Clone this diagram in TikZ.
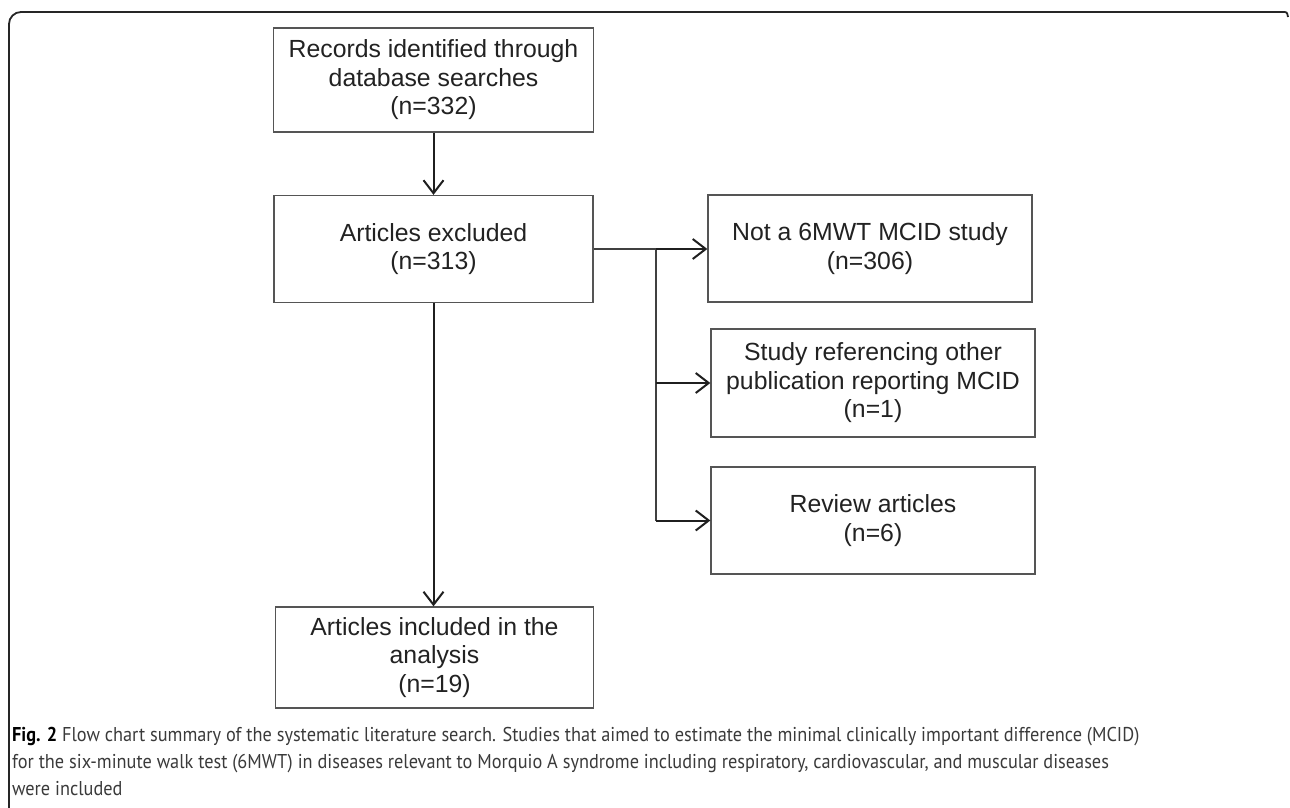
\documentclass[tikz,border=0pt]{standalone}
\usepackage{fontspec}
\setmainfont{Liberation Sans}
\newfontfamily\capfont{PT Sans}
\usetikzlibrary{arrows.meta}
\definecolor{boxline}{HTML}{555555}
\definecolor{txt}{HTML}{222222}
\definecolor{captxt}{HTML}{3A3A3A}
\tikzset{
  flowbox/.style={draw=boxline, line width=1.3pt, fill=white, align=center,
    text=txt, inner sep=0pt, font=\fontsize{24.8}{28.5}\selectfont},
  thinline/.style={draw=black!75, line width=1.2pt},
  arrowline/.style={draw=black!88, line width=2pt,
    -{Straight Barb[length=13pt,width=20pt,line width=2pt]}},
  captext/.style={anchor=base west, inner sep=0pt, text=captxt,
    font=\capfont\fontsize{20}{24}\selectfont}
}
\newcommand{\capline}[1]{\scalebox{0.915}[1]{#1}}
\begin{document}
\begin{tikzpicture}[x=1pt,y=-1pt]
\useasboundingbox (0,0) rectangle (1290,808);
% frame
\draw[line width=1.8pt, black!85, rounded corners=12pt] (9,808) -- (9,12) -- (1283,12);
\draw[line width=1.8pt, black!85] (1282.5,12) .. controls (1287,12) .. (1288,17);
% boxes
\node[flowbox, minimum width=320pt, minimum height=104pt] (b1) at (433.5,80)
  {Records identified through\\database searches\\(n=332)};
\node[flowbox, minimum width=319pt, minimum height=107pt] (b2) at (433.5,249)
  {Articles excluded\\(n=313)};
\node[flowbox, minimum width=324pt, minimum height=107pt] (b3) at (870,248.5)
  {Not a 6MWT MCID study\\(n=306)};
\node[flowbox, minimum width=324pt, minimum height=108pt] (b4) at (873,383)
  {Study referencing other\\publication reporting MCID\\(n=1)};
\node[flowbox, minimum width=324pt, minimum height=107pt] (b5) at (873,520.5)
  {Review articles\\(n=6)};
\node[flowbox, minimum width=318pt, minimum height=101pt] (b6) at (434.5,657.5)
  {Articles included in the\\analysis\\(n=19)};
% connectors
\coordinate (br1) at (656,249);
\coordinate (br2) at (656,383);
\coordinate (br3) at (656,520.5);
\draw[arrowline] (b1.south -| b2.north) -- (b2.north);
\draw[arrowline] (b2.south) -- (b2.south |- b6.north);
\draw[thinline] (b2.east) -- (br1);
\draw[thinline] (br1) -- (br3);
\draw[arrowline] (br1) -- (b3.west |- br1);
\draw[arrowline] (br2) -- (b4.west);
\draw[arrowline] (br3) -- (b5.west);
% caption
\node[captext] (cap1) at (12,741) {\capline{{\color{black}\bfseries Fig. 2} Flow chart summary of the systematic literature search. Studies that aimed to estimate the minimal clinically important difference (MCID)}};
\node[captext] (cap2) at (12,768) {\capline{for the six-minute walk test (6MWT) in diseases relevant to Morquio A syndrome including respiratory, cardiovascular, and muscular diseases}};
\node[captext] (cap3) at (12,795) {\capline{were included}};
\end{tikzpicture}
\end{document}
